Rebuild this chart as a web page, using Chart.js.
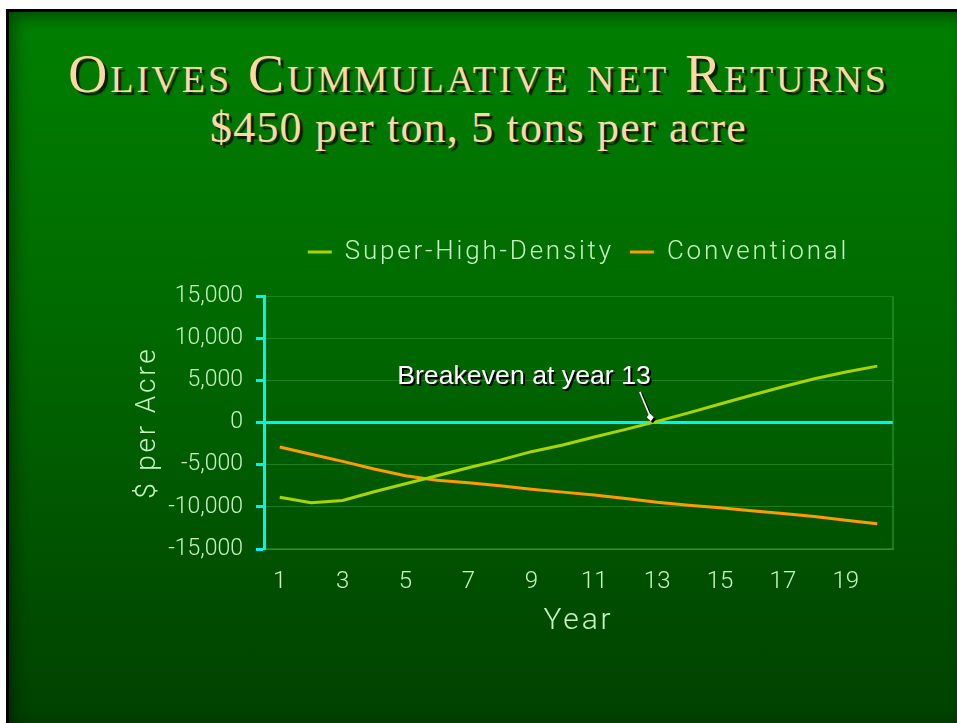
<!DOCTYPE html>
<html lang="en">
<head>
    <meta charset="UTF-8">
    <title>Olives Cummulative net Returns</title>
    <script src="https://cdn.jsdelivr.net/npm/chart.js"></script>
    <style>
        html, body { margin: 0; padding: 0; background: #fff; overflow: hidden; }
        #slide {
            position: absolute; left: 6px; top: 9px; width: 960px; height: 720px;
            border-left: 3px solid #000; border-top: 3px solid #000;
            background: linear-gradient(to bottom, #008000 0%, #006800 45%, #004000 100%);
            box-shadow: inset 0 0 16px 4px rgba(0, 0, 0, 0.45);
        }
        .title {
            position: absolute; left: 0; width: 957px; text-align: center;
            font-family: "Liberation Serif", "DejaVu Serif", serif;
            color: #fcd9a2; text-shadow: 3px 3px 1px #0b1a00;
            white-space: nowrap;
        }
        #t1 { top: 47px; font-size: 54px; line-height: 54px; font-variant: small-caps; letter-spacing: 2.8px; }
        #t2 { top: 106px; font-size: 44px; line-height: 44px; letter-spacing: 1.2px; }
        #chartBox { position: absolute; left: 0; top: 223px; width: 957px; height: 427px; }
    </style>
</head>
<body>

<div id="slide"></div>
<div class="title" id="t1">Olives Cummulative net Returns</div>
<div class="title" id="t2">$450 per ton, 5 tons per acre</div>
<div id="chartBox"><canvas id="returnsChart"></canvas></div>

<script>
    // Données
    const years = ['1', '2', '3', '4', '5', '6', '7', '8', '9', '10',
                   '11', '12', '13', '14', '15', '16', '17', '18', '19', '20'];
    const superHighDensity = [-8850, -9500, -9250, -8200, -7250, -6300, -5350, -4450, -3450, -2650,
                              -1700, -800, 150, 1150, 2200, 3250, 4250, 5200, 6000, 6700];
    const conventional = [-2900, -3750, -4600, -5500, -6300, -6850, -7150, -7500, -7900, -8250,
                          -8600, -9000, -9450, -9800, -10100, -10450, -10800, -11150, -11600, -12000];
    const yTicks = [-15000, -10000, -5000, 0, 5000, 10000, 15000];
    const breakevenIndex = 12;
    const breakevenText = 'Breakeven at year 13';

    const labelColor = '#c8f2c4';
    const cyan = '#00f4f4';
    const faint = 'rgba(60, 170, 60, 0.45)';

    // espacement des lettres pour la légende et les titres d'axes
    const spacing = {
        id: 'spacing',
        beforeLayout(chart) { chart.ctx.letterSpacing = '2.8px'; },
        beforeDraw(chart) { chart.ctx.letterSpacing = '2.8px'; },
        beforeDatasetsDraw(chart) {
            chart.ctx.letterSpacing = '0px';
            const {ctx, chartArea} = chart;
            ctx.save();
            ctx.strokeStyle = faint;
            ctx.lineWidth = 2;
            ctx.beginPath();
            ctx.moveTo(chartArea.right, chartArea.top);
            ctx.lineTo(chartArea.right, chartArea.bottom);
            ctx.stroke();
            ctx.restore();
        }
    };

    // annotation "Breakeven"
    const breakeven = {
        id: 'breakeven',
        afterDraw(chart) {
            const {ctx} = chart;
            const xs = chart.scales.x, ys = chart.scales.y;
            const step = xs.getPixelForValue(1) - xs.getPixelForValue(0);
            const xb = xs.getPixelForValue(breakevenIndex);
            ctx.save();
            ctx.letterSpacing = '0px';
            ctx.font = '26.7px "Liberation Sans", Arial, sans-serif';
            ctx.textAlign = 'right';
            ctx.textBaseline = 'alphabetic';
            ctx.fillStyle = '#000';
            ctx.fillText(breakevenText, xb - 0.2 * step + 2, ys.getPixelForValue(4570) + 2);
            ctx.fillStyle = '#fff';
            ctx.fillText(breakevenText, xb - 0.2 * step, ys.getPixelForValue(4570));

            const x1 = xb - 0.55 * step, y1 = ys.getPixelForValue(3650);
            const x2 = xb - 0.2 * step, y2 = ys.getPixelForValue(530);
            const arrow = (dx, dy, color) => {
                ctx.strokeStyle = color;
                ctx.fillStyle = color;
                ctx.lineWidth = 1.5;
                ctx.beginPath();
                ctx.moveTo(x1 + dx, y1 + dy);
                ctx.lineTo(x2 + dx, y2 + dy);
                ctx.stroke();
                ctx.beginPath();
                ctx.moveTo(x2 + dx, y2 + dy + 3);
                ctx.lineTo(x2 + dx - 4, y2 + dy - 1);
                ctx.lineTo(x2 + dx - 1, y2 + dy - 5);
                ctx.lineTo(x2 + dx + 3, y2 + dy - 1);
                ctx.closePath();
                ctx.fill();
            };
            arrow(2, 2, '#000');
            arrow(0, 0, '#fff');
            ctx.restore();
        }
    };

    const ctx = document.getElementById('returnsChart').getContext('2d');
    new Chart(ctx, {
        type: 'line',
        data: {
            labels: years,
            datasets: [{
                label: 'Super-High-Density',
                data: superHighDensity,
                borderColor: '#a8d400',
                backgroundColor: '#a8d400',
                borderWidth: 3,
                pointRadius: 0,
                tension: 0,
                fill: false
            }, {
                label: 'Conventional',
                data: conventional,
                borderColor: '#ff9a00',
                backgroundColor: '#ff9a00',
                borderWidth: 3,
                pointRadius: 0,
                tension: 0,
                fill: false
            }]
        },
        options: {
            responsive: true,
            maintainAspectRatio: false,
            animation: false,
            layout: { padding: { left: 0, right: 64, top: 0, bottom: 0 } },
            plugins: {
                legend: {
                    position: 'top',
                    fullSize: false,
                    labels: {
                        color: labelColor,
                        font: { family: 'Roboto', weight: 300, size: 26 },
                        usePointStyle: true,
                        pointStyle: 'line',
                        pointStyleWidth: 24,
                        padding: 16
                    }
                },
                // espace vide entre la légende et le graphique
                subtitle: {
                    display: true,
                    text: ' ',
                    position: 'top',
                    weight: 500,
                    fullSize: false,
                    font: { size: 1 },
                    padding: { top: 10, bottom: 10 }
                },
                tooltip: { enabled: false }
            },
            scales: {
                x: {
                    offset: true,
                    grid: { display: false, drawTicks: false },
                    border: { display: true, color: faint, width: 2 },
                    ticks: {
                        z: 1,
                        color: labelColor,
                        font: { family: 'Roboto', weight: 300, size: 24 },
                        padding: 19,
                        autoSkip: false,
                        maxRotation: 0,
                        callback: (v, i) => (i % 2 === 0 ? years[i] : '')
                    },
                    title: {
                        display: true,
                        text: 'Year',
                        color: labelColor,
                        font: { family: 'Roboto', weight: 300, size: 30 },
                        padding: { top: 0, bottom: 11 }
                    },
                    afterFit: (scale) => { scale.height = 101; }
                },
                y: {
                    min: -15000,
                    max: 15000,
                    afterBuildTicks: (scale) => { scale.ticks = yTicks.map(v => ({ value: v })); },
                    grid: {
                        color: (c) => (c.tick && c.tick.value === 0 ? cyan : faint),
                        lineWidth: (c) => (c.tick && c.tick.value === 0 ? 3 : 1),
                        tickColor: cyan,
                        tickWidth: 3,
                        tickLength: 8
                    },
                    border: { display: true, color: cyan, width: 3 },
                    ticks: {
                        z: 1,
                        color: labelColor,
                        font: { family: 'Roboto', weight: 300, size: 23 },
                        padding: 13,
                        callback: (v) => v.toLocaleString('en-US')
                    },
                    title: {
                        display: true,
                        text: '$ per Acre',
                        color: labelColor,
                        font: { family: 'Roboto', weight: 300, size: 28 },
                        padding: { top: 131, bottom: 0 }
                    },
                    afterFit: (scale) => { scale.width = 264; }
                }
            }
        },
        plugins: [spacing, breakeven]
    });
</script>

</body>
</html>
